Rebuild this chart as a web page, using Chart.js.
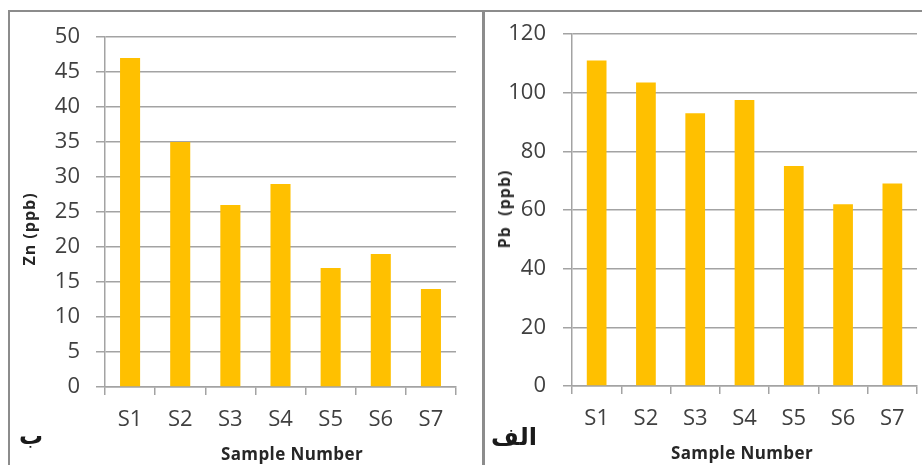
<!DOCTYPE html>
<html>
<head>
<meta charset="utf-8">
<script src="https://cdn.jsdelivr.net/npm/chart.js@4.4.1/dist/chart.umd.min.js"></script>
<style>
  html, body { margin: 0; padding: 0; background: #fff; }
  body { position: relative; width: 922px; height: 465px; overflow: hidden; }
  .line { position: absolute; background: #8c8c8c; }
  .panel { position: absolute; top: 0; height: 465px; }
  .txt { position: absolute; transform: translate(-50%, -50%); white-space: pre; color: #262626; }
  .ytitle { font: bold 16px "Open Sans", sans-serif; letter-spacing: 1px; transform: translate(-50%, -50%) rotate(-90deg); }
  .xtitle { font: bold 17px "Open Sans", sans-serif; letter-spacing: 0.4px; }
  .ar { font: bold 24px "DejaVu Sans", sans-serif; color: #1a1a1a; }
</style>
</head>
<body>
<div class="line" style="left:8px;top:10px;width:914px;height:2px"></div>
<div class="line" style="left:8px;top:10px;width:2px;height:455px"></div>
<div class="line" style="left:482px;top:10px;width:3px;height:455px"></div>

<div class="panel" style="left:0;width:481px"><canvas id="chartZn" width="481" height="465"></canvas></div>
<div class="panel" style="left:484px;width:438px"><canvas id="chartPb" width="438" height="465"></canvas></div>

<div class="txt ytitle" style="left:29px;top:229px">Zn (ppb)</div>
<div class="txt ytitle" style="left:504px;top:209px">Pb  (ppb)</div>
<div class="txt xtitle" style="left:292px;top:453px">Sample Number</div>
<div class="txt xtitle" style="left:742px;top:452px">Sample Number</div>
<div class="txt ar" style="left:31px;top:436px">ب</div>
<div class="txt ar" style="left:514px;top:437px">الف</div>

<script>
// Dados
const amostras = ["S1", "S2", "S3", "S4", "S5", "S6", "S7"];
const valoresZn = [47, 35, 26, 29, 17, 19, 14];
const valoresPb = [111, 103.5, 93, 97.5, 75, 62, 69];
const escalaZn = [0, 50, 5];   // min, max, passo
const escalaPb = [0, 120, 20];

const corBarra = "#FFC000";
const corGrade = "#a3a3a3";
const fonteTicks = { family: "'Open Sans', sans-serif", size: 22 };

// Cria um gráfico de barras com área de plotagem fixa
function criarGrafico(id, valores, escala, larguraY, padding, paddingTick) {
  const ctx = document.getElementById(id).getContext("2d");
  return new Chart(ctx, {
    type: "bar",
    data: {
      labels: amostras,
      datasets: [{
        data: valores,
        backgroundColor: corBarra,
        borderWidth: 0,
        barPercentage: 0.4,
        categoryPercentage: 1
      }]
    },
    options: {
      responsive: false,
      animation: false,
      layout: { padding: padding },
      plugins: { legend: { display: false }, tooltip: { enabled: false } },
      scales: {
        x: {
          grid: { drawOnChartArea: false, drawTicks: true, tickLength: 8, color: corGrade, lineWidth: 1.5 },
          border: { color: corGrade, width: 1.5 },
          ticks: { color: "#404040", font: fonteTicks, padding: 12, maxRotation: 0 },
          afterFit: axis => { axis.height = 60; }
        },
        y: {
          min: escala[0],
          max: escala[1],
          grid: { color: corGrade, lineWidth: 1.5, tickLength: 9 },
          border: { color: corGrade, width: 1.5 },
          ticks: { stepSize: escala[2], color: "#404040", font: fonteTicks, padding: paddingTick },
          afterFit: axis => { axis.width = larguraY; }
        }
      }
    }
  });
}

criarGrafico("chartZn", valoresZn, escalaZn, 100, { left: 5, right: 25, top: 37, bottom: 18 }, 16);
criarGrafico("chartPb", valoresPb, escalaPb, 80, { left: 8, right: 5, top: 34, bottom: 19 }, 17);
</script>
</body>
</html>
